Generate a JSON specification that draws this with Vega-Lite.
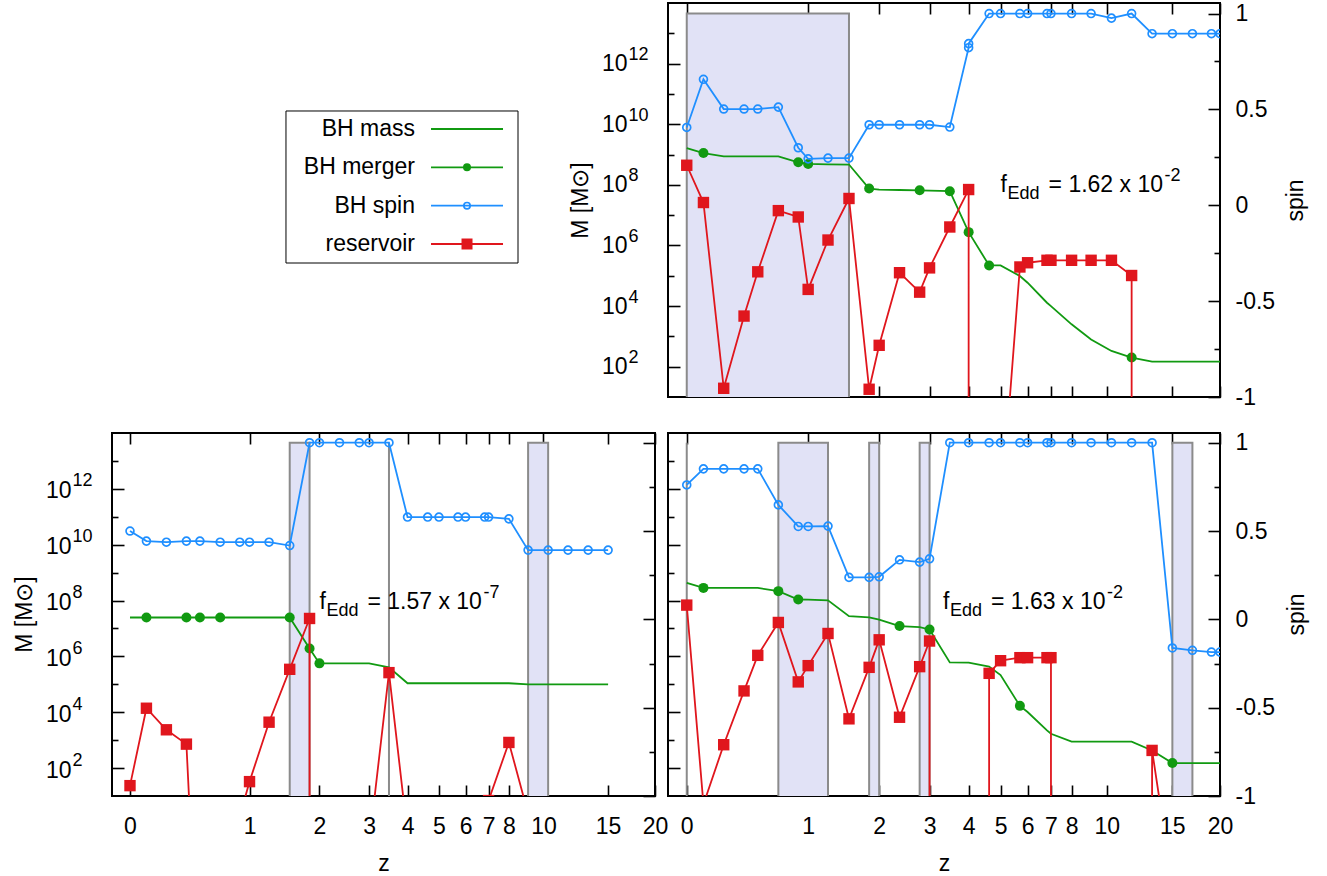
{
"$schema": "https://vega.github.io/schema/vega-lite/v6.json",
"padding": {"left": 12, "top": 1, "right": 5, "bottom": 5},
"config": {
  "font": "Liberation Sans",
  "view": {"stroke": "black", "strokeWidth": 2},
  "axis": {"grid": false, "domain": false, "tickColor": "black", "tickWidth": 1.6, "labelColor": "black", "titleColor": "black", "labelFont": "Liberation Sans", "titleFont": "Liberation Sans", "labelFontSize": 23, "titleFontSize": 23, "titleFontWeight": "normal", "labelFlush": false, "labelOverlap": false, "zindex": 1},
  "text": {"font": "Liberation Sans", "color": "black"}
},
"datasets": {
"legend": [{"k":"mass","label":"BH mass"},{"k":"merger","label":"BH merger"},{"k":"spin","label":"BH spin"},{"k":"res","label":"reservoir"}],
"tr": [
{"k":"band","z":0,"z2":1.525},
{"k":"mass","z":0,"m":1.64e9},{"k":"mass","z":0.1,"m":1.12e9},{"k":"mass","z":0.235,"m":8.7e8},{"k":"mass","z":0.387,"m":8.7e8},{"k":"mass","z":0.5,"m":8.7e8},{"k":"mass","z":0.687,"m":8.7e8},{"k":"mass","z":0.89,"m":5.56e8},{"k":"mass","z":1.0,"m":4.9e8},{"k":"mass","z":1.24,"m":4.73e8},{"k":"mass","z":1.525,"m":4.68e8},{"k":"mass","z":1.833,"m":7.55e7},{"k":"mass","z":2.0,"m":7.0e7},{"k":"mass","z":2.37,"m":6.76e7},{"k":"mass","z":2.78,"m":6.6e7},{"k":"mass","z":3.0,"m":6.46e7},{"k":"mass","z":3.49,"m":6.17e7},{"k":"mass","z":4.0,"m":2.75e6},{"k":"mass","z":4.62,"m":2.19e5},{"k":"mass","z":5.0,"m":2.19e5},{"k":"mass","z":5.7,"m":9.8e4},{"k":"mass","z":6.0,"m":5.9e4},{"k":"mass","z":6.82,"m":1.29e4},{"k":"mass","z":7.0,"m":1.0e4},{"k":"mass","z":8.0,"m":2500},{"k":"mass","z":9.06,"m":794},{"k":"mass","z":10.3,"m":331},{"k":"mass","z":11.68,"m":200},{"k":"mass","z":13.25,"m":146},{"k":"mass","z":15.0,"m":146},{"k":"mass","z":16.94,"m":146},{"k":"mass","z":19.0,"m":146},{"k":"mass","z":20.0,"m":146},
{"k":"merger","z":0.1,"m":1.12e9},{"k":"merger","z":0.89,"m":5.56e8},{"k":"merger","z":1.0,"m":4.9e8},{"k":"merger","z":1.833,"m":7.55e7},{"k":"merger","z":2.78,"m":6.6e7},{"k":"merger","z":3.49,"m":6.17e7},{"k":"merger","z":4.0,"m":2.75e6},{"k":"merger","z":4.62,"m":2.19e5},{"k":"merger","z":11.68,"m":200},
{"k":"res","i":1,"z":0,"m":4.43e8},{"k":"res","i":2,"z":0.1,"m":2.61e7},{"k":"res","i":3,"z":0.235,"m":19.4},{"k":"res","i":4,"z":0.387,"m":4680},{"k":"res","i":5,"z":0.5,"m":1.35e5},{"k":"res","i":6,"z":0.687,"m":1.41e7},{"k":"res","i":7,"z":0.89,"m":8.7e6},{"k":"res","i":8,"z":1.0,"m":3.55e4},{"k":"res","i":9,"z":1.24,"m":1.51e6},{"k":"res","i":10,"z":1.525,"m":3.55e7},{"k":"res","i":11,"z":1.833,"m":18},{"k":"res","i":12,"z":2.0,"m":507},{"k":"res","i":13,"z":2.37,"m":1.26e5},{"k":"res","i":14,"z":2.78,"m":2.88e4},{"k":"res","i":15,"z":3.0,"m":1.82e5},{"k":"res","i":16,"z":3.49,"m":4.07e6},{"k":"res","i":17,"z":4.0,"m":7.0e7},{"k":"res","i":18,"z":4.0,"m":1e-6},{"k":"res","i":19,"z":4.62,"m":1e-6},{"k":"res","i":20,"z":5.0,"m":1e-3},{"k":"res","i":21,"z":5.7,"m":1.95e5},{"k":"res","i":22,"z":6.0,"m":2.69e5},{"k":"res","i":23,"z":6.82,"m":3.24e5},{"k":"res","i":24,"z":7.0,"m":3.24e5},{"k":"res","i":25,"z":8.0,"m":3.24e5},{"k":"res","i":26,"z":9.06,"m":3.24e5},{"k":"res","i":27,"z":10.3,"m":3.24e5},{"k":"res","i":28,"z":11.68,"m":1.02e5},{"k":"res","i":29,"z":11.68,"m":1e-6},
{"k":"spin","i":1,"z":0,"s":0.406},{"k":"spin","i":2,"z":0.1,"s":0.657},{"k":"spin","i":3,"z":0.235,"s":0.502},{"k":"spin","i":4,"z":0.387,"s":0.502},{"k":"spin","i":5,"z":0.5,"s":0.502},{"k":"spin","i":6,"z":0.687,"s":0.512},{"k":"spin","i":7,"z":0.89,"s":0.3},{"k":"spin","i":8,"z":1.0,"s":0.242},{"k":"spin","i":9,"z":1.24,"s":0.246},{"k":"spin","i":10,"z":1.525,"s":0.246},{"k":"spin","i":11,"z":1.833,"s":0.42},{"k":"spin","i":12,"z":2.0,"s":0.42},{"k":"spin","i":13,"z":2.37,"s":0.42},{"k":"spin","i":14,"z":2.78,"s":0.42},{"k":"spin","i":15,"z":3.0,"s":0.42},{"k":"spin","i":16,"z":3.49,"s":0.408},{"k":"spin","i":17,"z":4.0,"s":0.822},{"k":"spin","i":18,"z":4.0,"s":0.843},{"k":"spin","i":19,"z":4.62,"s":1},{"k":"spin","i":20,"z":5.0,"s":1},{"k":"spin","i":21,"z":5.7,"s":1},{"k":"spin","i":22,"z":6.0,"s":1},{"k":"spin","i":23,"z":6.82,"s":1},{"k":"spin","i":24,"z":7.0,"s":1},{"k":"spin","i":25,"z":8.0,"s":1},{"k":"spin","i":26,"z":9.06,"s":1},{"k":"spin","i":27,"z":10.3,"s":0.976},{"k":"spin","i":28,"z":11.68,"s":1},{"k":"spin","i":29,"z":13.25,"s":0.895},{"k":"spin","i":30,"z":15.0,"s":0.895},{"k":"spin","i":31,"z":16.94,"s":0.895},{"k":"spin","i":32,"z":19.0,"s":0.895},{"k":"spin","i":33,"z":20.0,"s":0.895}
],
"bl": [
{"k":"band","z":1.525,"z2":1.833},{"k":"band","z":3.49,"z2":3.49},{"k":"band","z":9.06,"z2":10.3},
{"k":"mass","z":0,"m":2.47e7},{"k":"mass","z":0.1,"m":2.47e7},{"k":"mass","z":0.235,"m":2.47e7},{"k":"mass","z":0.387,"m":2.47e7},{"k":"mass","z":0.5,"m":2.47e7},{"k":"mass","z":0.687,"m":2.47e7},{"k":"mass","z":0.89,"m":2.47e7},{"k":"mass","z":1.0,"m":2.47e7},{"k":"mass","z":1.24,"m":2.47e7},{"k":"mass","z":1.525,"m":2.47e7},{"k":"mass","z":1.833,"m":1.93e6},{"k":"mass","z":2.0,"m":5.62e5},{"k":"mass","z":2.37,"m":5.62e5},{"k":"mass","z":2.78,"m":5.62e5},{"k":"mass","z":3.0,"m":5.62e5},{"k":"mass","z":3.49,"m":4.07e5},{"k":"mass","z":4.0,"m":1.09e5},{"k":"mass","z":4.62,"m":1.09e5},{"k":"mass","z":5.0,"m":1.09e5},{"k":"mass","z":5.7,"m":1.09e5},{"k":"mass","z":6.0,"m":1.09e5},{"k":"mass","z":6.82,"m":1.09e5},{"k":"mass","z":7.0,"m":1.09e5},{"k":"mass","z":8.0,"m":1.09e5},{"k":"mass","z":9.06,"m":1.0e5},{"k":"mass","z":10.3,"m":1.0e5},{"k":"mass","z":11.68,"m":1.0e5},{"k":"mass","z":13.25,"m":1.0e5},{"k":"mass","z":15.0,"m":1.0e5},
{"k":"merger","z":0.1,"m":2.47e7},{"k":"merger","z":0.387,"m":2.47e7},{"k":"merger","z":0.5,"m":2.47e7},{"k":"merger","z":0.687,"m":2.47e7},{"k":"merger","z":1.525,"m":2.47e7},{"k":"merger","z":1.833,"m":1.93e6},{"k":"merger","z":2.0,"m":5.62e5},
{"k":"res","i":1,"z":0,"m":23.5},{"k":"res","i":2,"z":0.1,"m":1.39e4},{"k":"res","i":3,"z":0.235,"m":2350},{"k":"res","i":4,"z":0.387,"m":720},{"k":"res","i":5,"z":0.5,"m":1e-7},{"k":"res","i":6,"z":0.687,"m":1e-7},{"k":"res","i":7,"z":0.89,"m":1.86},{"k":"res","i":8,"z":1.0,"m":32.7},{"k":"res","i":9,"z":1.24,"m":4400},{"k":"res","i":10,"z":1.525,"m":3.44e5},{"k":"res","i":11,"z":1.833,"m":2.28e7},{"k":"res","i":12,"z":1.833,"m":1e-7},{"k":"res","i":13,"z":2.0,"m":1e-7},{"k":"res","i":14,"z":2.37,"m":1e-7},{"k":"res","i":15,"z":2.78,"m":1e-7},{"k":"res","i":16,"z":3.0,"m":0.18},{"k":"res","i":17,"z":3.49,"m":2.62e5},{"k":"res","i":18,"z":4.0,"m":0.42},{"k":"res","i":19,"z":4.62,"m":1e-7},{"k":"res","i":20,"z":5.0,"m":1e-7},{"k":"res","i":21,"z":5.7,"m":1e-7},{"k":"res","i":22,"z":6.0,"m":1e-7},{"k":"res","i":23,"z":6.82,"m":1e-7},{"k":"res","i":24,"z":7.0,"m":6.86},{"k":"res","i":25,"z":8.0,"m":828},{"k":"res","i":26,"z":9.06,"m":2.34},
{"k":"spin","i":1,"z":0,"s":0.5},{"k":"spin","i":2,"z":0.1,"s":0.443},{"k":"spin","i":3,"z":0.235,"s":0.437},{"k":"spin","i":4,"z":0.387,"s":0.443},{"k":"spin","i":5,"z":0.5,"s":0.443},{"k":"spin","i":6,"z":0.687,"s":0.437},{"k":"spin","i":7,"z":0.89,"s":0.437},{"k":"spin","i":8,"z":1.0,"s":0.437},{"k":"spin","i":9,"z":1.24,"s":0.437},{"k":"spin","i":10,"z":1.525,"s":0.418},{"k":"spin","i":11,"z":1.833,"s":1},{"k":"spin","i":12,"z":2.0,"s":1},{"k":"spin","i":13,"z":2.37,"s":1},{"k":"spin","i":14,"z":2.78,"s":1},{"k":"spin","i":15,"z":3.0,"s":1},{"k":"spin","i":16,"z":3.49,"s":1},{"k":"spin","i":17,"z":4.0,"s":0.579},{"k":"spin","i":18,"z":4.62,"s":0.579},{"k":"spin","i":19,"z":5.0,"s":0.579},{"k":"spin","i":20,"z":5.7,"s":0.579},{"k":"spin","i":21,"z":6.0,"s":0.579},{"k":"spin","i":22,"z":6.82,"s":0.579},{"k":"spin","i":23,"z":7.0,"s":0.579},{"k":"spin","i":24,"z":8.0,"s":0.569},{"k":"spin","i":25,"z":9.06,"s":0.392},{"k":"spin","i":26,"z":10.3,"s":0.392},{"k":"spin","i":27,"z":11.68,"s":0.392},{"k":"spin","i":28,"z":13.25,"s":0.392},{"k":"spin","i":29,"z":15.0,"s":0.392}
],
"br": [
{"k":"band","z":0,"z2":0},{"k":"band","z":0.687,"z2":1.24},{"k":"band","z":1.833,"z2":2.0},{"k":"band","z":2.78,"z2":3.0},{"k":"band","z":15.0,"z2":16.94},
{"k":"mass","z":0,"m":4.29e8},{"k":"mass","z":0.1,"m":2.84e8},{"k":"mass","z":0.235,"m":2.84e8},{"k":"mass","z":0.387,"m":2.84e8},{"k":"mass","z":0.5,"m":2.84e8},{"k":"mass","z":0.687,"m":2.17e8},{"k":"mass","z":0.89,"m":1.09e8},{"k":"mass","z":1.0,"m":1.07e8},{"k":"mass","z":1.24,"m":1.02e8},{"k":"mass","z":1.525,"m":2.75e7},{"k":"mass","z":1.833,"m":2.51e7},{"k":"mass","z":2.0,"m":2.09e7},{"k":"mass","z":2.37,"m":1.22e7},{"k":"mass","z":2.78,"m":1.12e7},{"k":"mass","z":3.0,"m":9.2e6},{"k":"mass","z":3.49,"m":6.1e5},{"k":"mass","z":4.0,"m":5.96e5},{"k":"mass","z":4.62,"m":4.29e5},{"k":"mass","z":5.0,"m":2.14e5},{"k":"mass","z":5.7,"m":1.69e4},{"k":"mass","z":6.0,"m":1.02e4},{"k":"mass","z":6.82,"m":2240},{"k":"mass","z":7.0,"m":1690},{"k":"mass","z":8.0,"m":891},{"k":"mass","z":9.06,"m":891},{"k":"mass","z":10.3,"m":891},{"k":"mass","z":11.68,"m":891},{"k":"mass","z":13.25,"m":427},{"k":"mass","z":15.0,"m":151},{"k":"mass","z":16.94,"m":151},{"k":"mass","z":19.0,"m":151},{"k":"mass","z":20.0,"m":151},
{"k":"merger","z":0.1,"m":2.84e8},{"k":"merger","z":0.687,"m":2.17e8},{"k":"merger","z":0.89,"m":1.09e8},{"k":"merger","z":2.37,"m":1.22e7},{"k":"merger","z":3.0,"m":9.2e6},{"k":"merger","z":5.7,"m":1.69e4},{"k":"merger","z":15.0,"m":151},
{"k":"res","i":1,"z":0,"m":6.86e7},{"k":"res","i":2,"z":0.1,"m":5.0},{"k":"res","i":3,"z":0.235,"m":686},{"k":"res","i":4,"z":0.387,"m":5.8e4},{"k":"res","i":5,"z":0.5,"m":1.09e6},{"k":"res","i":6,"z":0.687,"m":1.64e7},{"k":"res","i":7,"z":0.89,"m":1.22e5},{"k":"res","i":8,"z":1.0,"m":4.66e5},{"k":"res","i":9,"z":1.24,"m":6.61e6},{"k":"res","i":10,"z":1.525,"m":5800},{"k":"res","i":11,"z":1.833,"m":4.05e5},{"k":"res","i":12,"z":2.0,"m":3.92e6},{"k":"res","i":13,"z":2.37,"m":6610},{"k":"res","i":14,"z":2.78,"m":4.29e5},{"k":"res","i":15,"z":3.0,"m":3.55e6},{"k":"res","i":16,"z":3.0,"m":1e-7},{"k":"res","i":17,"z":3.49,"m":1e-7},{"k":"res","i":18,"z":4.0,"m":1e-7},{"k":"res","i":19,"z":4.62,"m":1e-7},{"k":"res","i":20,"z":4.62,"m":2.47e5},{"k":"res","i":21,"z":5.0,"m":7.0e5},{"k":"res","i":22,"z":5.7,"m":9.0e5},{"k":"res","i":23,"z":6.0,"m":9.0e5},{"k":"res","i":24,"z":6.82,"m":9.0e5},{"k":"res","i":25,"z":7.0,"m":9.0e5},{"k":"res","i":26,"z":7.0,"m":1e-7},{"k":"res","i":27,"z":8.0,"m":1e-7},{"k":"res","i":28,"z":9.06,"m":1e-7},{"k":"res","i":29,"z":10.3,"m":1e-7},{"k":"res","i":30,"z":11.68,"m":1e-7},{"k":"res","i":31,"z":13.25,"m":1e-7},{"k":"res","i":32,"z":13.25,"m":429},{"k":"res","i":33,"z":15.0,"m":6.5e-3},
{"k":"spin","i":1,"z":0,"s":0.761},{"k":"spin","i":2,"z":0.1,"s":0.852},{"k":"spin","i":3,"z":0.235,"s":0.852},{"k":"spin","i":4,"z":0.387,"s":0.852},{"k":"spin","i":5,"z":0.5,"s":0.852},{"k":"spin","i":6,"z":0.687,"s":0.648},{"k":"spin","i":7,"z":0.89,"s":0.526},{"k":"spin","i":8,"z":1.0,"s":0.526},{"k":"spin","i":9,"z":1.24,"s":0.528},{"k":"spin","i":10,"z":1.525,"s":0.2375},{"k":"spin","i":11,"z":1.833,"s":0.2375},{"k":"spin","i":12,"z":2.0,"s":0.241},{"k":"spin","i":13,"z":2.37,"s":0.337},{"k":"spin","i":14,"z":2.78,"s":0.324},{"k":"spin","i":15,"z":3.0,"s":0.343},{"k":"spin","i":16,"z":3.49,"s":1},{"k":"spin","i":17,"z":4.0,"s":1},{"k":"spin","i":18,"z":4.62,"s":1},{"k":"spin","i":19,"z":5.0,"s":1},{"k":"spin","i":20,"z":5.7,"s":1},{"k":"spin","i":21,"z":6.0,"s":1},{"k":"spin","i":22,"z":6.82,"s":1},{"k":"spin","i":23,"z":7.0,"s":1},{"k":"spin","i":24,"z":8.0,"s":1},{"k":"spin","i":25,"z":9.06,"s":1},{"k":"spin","i":26,"z":10.3,"s":1},{"k":"spin","i":27,"z":11.68,"s":1},{"k":"spin","i":28,"z":13.25,"s":1},{"k":"spin","i":29,"z":15.0,"s":-0.162},{"k":"spin","i":30,"z":16.94,"s":-0.175},{"k":"spin","i":31,"z":19.0,"s":-0.185},{"k":"spin","i":32,"z":20.0,"s":-0.185}
]
},
"columns": 2,
"spacing": {"row": 36, "column": 13},
"bounds": "flush",
"resolve": {"scale": {"color": "independent"}},
"concat": [
{
 "width": 543, "height": 394,
 "view": {"stroke": null},
 "data": {"name": "legend"},
 "resolve": {"scale": {"y": "independent"}},
 "layer": [
  {"data": {"values": [{}]}, "mark": {"type": "rect", "fill": "white", "stroke": "black", "strokeWidth": 1},
   "encoding": {
    "x": {"datum": 0.3204, "type": "quantitative", "scale": {"domain": [0, 1], "nice": false, "zero": false}, "axis": null},
    "x2": {"datum": 0.7477},
    "y": {"datum": 0.2741, "type": "quantitative", "scale": {"domain": [0, 1], "reverse": true, "nice": false, "zero": false}, "axis": null},
    "y2": {"datum": 0.6599}
   }},
  {"mark": {"type": "rule", "strokeWidth": 1.8},
   "encoding": {
    "x": {"datum": 0.5875, "type": "quantitative", "scale": {"domain": [0, 1], "nice": false, "zero": false}, "axis": null},
    "x2": {"datum": 0.7201},
    "y": {"field": "k", "type": "nominal", "scale": {"type": "point", "domain": ["mass", "merger", "spin", "res"], "range": [126, 241], "padding": 0}, "axis": null},
    "color": {"field": "k", "type": "nominal", "scale": {"domain": ["mass", "merger", "spin", "res"], "range": ["#119a11", "#119a11", "#1f8fff", "#e0161d"]}, "legend": null}
   }},
  {"transform": [{"filter": "datum.k === 'merger'"}],
   "mark": {"type": "point", "shape": "circle", "filled": true, "color": "#119a11", "size": 64, "opacity": 1},
   "encoding": {
    "x": {"datum": 0.6538, "type": "quantitative", "scale": {"domain": [0, 1], "nice": false, "zero": false}, "axis": null},
    "y": {"field": "k", "type": "nominal", "scale": {"type": "point", "domain": ["mass", "merger", "spin", "res"], "range": [126, 241], "padding": 0}, "axis": null}
   }},
  {"transform": [{"filter": "datum.k === 'spin'"}],
   "mark": {"type": "point", "shape": "circle", "filled": false, "color": "#1f8fff", "size": 40, "strokeWidth": 1.7, "opacity": 1},
   "encoding": {
    "x": {"datum": 0.6538, "type": "quantitative", "scale": {"domain": [0, 1], "nice": false, "zero": false}, "axis": null},
    "y": {"field": "k", "type": "nominal", "scale": {"type": "point", "domain": ["mass", "merger", "spin", "res"], "range": [126, 241], "padding": 0}, "axis": null}
   }},
  {"transform": [{"filter": "datum.k === 'res'"}],
   "mark": {"type": "point", "shape": "square", "filled": true, "color": "#e0161d", "size": 121, "opacity": 1},
   "encoding": {
    "x": {"datum": 0.6538, "type": "quantitative", "scale": {"domain": [0, 1], "nice": false, "zero": false}, "axis": null},
    "y": {"field": "k", "type": "nominal", "scale": {"type": "point", "domain": ["mass", "merger", "spin", "res"], "range": [126, 241], "padding": 0}, "axis": null}
   }},
  {"mark": {"type": "text", "align": "right", "baseline": "middle", "fontSize": 23},
   "encoding": {
    "x": {"datum": 0.558, "type": "quantitative", "scale": {"domain": [0, 1], "nice": false, "zero": false}, "axis": null},
    "y": {"field": "k", "type": "nominal", "scale": {"type": "point", "domain": ["mass", "merger", "spin", "res"], "range": [126, 241], "padding": 0}, "axis": null},
    "text": {"field": "label"}
   }}
 ]
},
{
 "width": 552, "height": 394,
 "data": {"name": "tr"},
 "resolve": {"scale": {"y": "independent"}, "axis": {"x": "independent", "y": "independent"}},
 "layer": [
  {"transform": [{"filter": "datum.k === 'band'"}],
   "mark": {"type": "rect", "fill": "#e1e2f6", "stroke": "#8b8b8b", "strokeWidth": 2, "clip": true},
   "encoding": {
    "x": {"field": "z", "type": "quantitative", "scale": {"type": "symlog", "constant": 1, "domain": [-0.113, 20], "nice": false, "zero": false}, "axis": {"orient": "bottom", "values": [0,1,2,3,4,5,6,7,8,10,15,20], "tickSize": -11, "labels": false, "title": null}},
    "x2": {"field": "z2"},
    "y": {"datum": -1.02, "type": "quantitative", "scale": {"domain": [-1, 1.055], "nice": false, "zero": false}, "axis": {"orient": "right", "values": [-1,-0.5,0,0.5,1], "tickSize": -12, "labelPadding": 27, "labelAlign": "left", "labelBaseline": "middle", "labelExpr": "datum.value < 0 ? '-' + format(-datum.value, '~g') : format(datum.value, '~g')", "title": "spin", "titleAngle": 270, "titleX": 75, "titleY": 197, "titleAlign": "center", "titleBaseline": "middle"}},
    "y2": {"datum": 1}
   }},
  {"transform": [{"filter": "datum.k === 'mass'"}],
   "mark": {"type": "line", "color": "#119a11", "strokeWidth": 1.8, "clip": true},
   "encoding": {
    "x": {"field": "z", "type": "quantitative", "scale": {"type": "symlog", "constant": 1, "domain": [-0.113, 20], "nice": false, "zero": false}, "axis": {"orient": "top", "values": [0,1,2,3,4,5,6,7,8,10,15,20], "tickSize": -11, "labels": false, "title": null}},
    "y": {"field": "m", "type": "quantitative", "scale": {"type": "log", "domain": [10, 1e14], "nice": false}, "axis": {"orient": "left", "values": [100,1e4,1e6,1e8,1e10,1e12], "tickSize": -12, "labelExpr": "'10'", "labelAlign": "right", "labelBaseline": "middle", "labelPadding": 53, "title": "M [M⊙]", "titleAngle": 270, "titleX": -88, "titleY": 197, "titleAlign": "center", "titleBaseline": "middle"}}
   }},
  {"transform": [{"filter": "datum.k === 'merger'"}],
   "mark": {"type": "point", "shape": "circle", "filled": true, "color": "#119a11", "size": 100, "opacity": 1, "clip": true},
   "encoding": {
    "x": {"field": "z", "type": "quantitative", "scale": {"type": "symlog", "constant": 1, "domain": [-0.113, 20], "nice": false, "zero": false}, "axis": null},
    "y": {"field": "m", "type": "quantitative", "scale": {"type": "log", "domain": [10, 1e14], "nice": false}, "axis": {"orient": "left", "values": [100,1e4,1e6,1e8,1e10,1e12], "ticks": false, "tickSize": 0, "labelExpr": "'' + round(log(datum.value) / LN10)", "labelAlign": "left", "labelBaseline": "middle", "labelPadding": 40, "labelOffset": -9, "labelFontSize": 18, "title": null}}
   }},
  {"transform": [{"filter": "datum.k === 'res'"}],
   "mark": {"type": "line", "color": "#e0161d", "strokeWidth": 1.8, "clip": true},
   "encoding": {
    "x": {"field": "z", "type": "quantitative", "scale": {"type": "symlog", "constant": 1, "domain": [-0.113, 20], "nice": false, "zero": false}, "axis": null},
    "y": {"field": "m", "type": "quantitative", "scale": {"type": "log", "domain": [10, 1e14], "nice": false}, "axis": {"orient": "left", "values": [1e3,1e5,1e7,1e9,1e11,1e13], "tickSize": -6, "labels": false, "title": null}},
    "order": {"field": "i", "type": "quantitative"}
   }},
  {"transform": [{"filter": "datum.k === 'res'"}],
   "mark": {"type": "point", "shape": "square", "filled": true, "color": "#e0161d", "size": 130, "opacity": 1, "clip": true},
   "encoding": {
    "x": {"field": "z", "type": "quantitative", "scale": {"type": "symlog", "constant": 1, "domain": [-0.113, 20], "nice": false, "zero": false}, "axis": null},
    "y": {"field": "m", "type": "quantitative", "scale": {"type": "log", "domain": [10, 1e14], "nice": false}, "axis": null}
   }},
  {"transform": [{"filter": "datum.k === 'spin'"}],
   "mark": {"type": "line", "color": "#1f8fff", "strokeWidth": 1.8, "clip": true},
   "encoding": {
    "x": {"field": "z", "type": "quantitative", "scale": {"type": "symlog", "constant": 1, "domain": [-0.113, 20], "nice": false, "zero": false}, "axis": null},
    "y": {"field": "s", "type": "quantitative", "scale": {"domain": [-1, 1.055], "nice": false, "zero": false}, "axis": {"orient": "right", "values": [-0.75,-0.25,0.25,0.75], "tickSize": -6, "labels": false, "title": null}},
    "order": {"field": "i", "type": "quantitative"}
   }},
  {"transform": [{"filter": "datum.k === 'spin'"}],
   "mark": {"type": "point", "shape": "circle", "filled": false, "color": "#1f8fff", "size": 62, "strokeWidth": 1.7, "opacity": 1, "clip": true},
   "encoding": {
    "x": {"field": "z", "type": "quantitative", "scale": {"type": "symlog", "constant": 1, "domain": [-0.113, 20], "nice": false, "zero": false}, "axis": null},
    "y": {"field": "s", "type": "quantitative", "scale": {"domain": [-1, 1.055], "nice": false, "zero": false}, "axis": null}
   }},
  {"data": {"values": [{}]}, "mark": {"type": "text", "text": "f", "align": "left", "baseline": "alphabetic", "fontSize": 23},
   "encoding": {"x": {"datum": 5.0, "type": "quantitative", "scale": {"type": "symlog", "constant": 1, "domain": [-0.113, 20], "nice": false, "zero": false}, "axis": null}, "y": {"datum": 0.068, "type": "quantitative", "scale": {"domain": [-1, 1.055], "nice": false, "zero": false}, "axis": null}}},
  {"data": {"values": [{}]}, "mark": {"type": "text", "text": "Edd", "align": "left", "baseline": "alphabetic", "fontSize": 18, "dx": 7, "dy": 7},
   "encoding": {"x": {"datum": 5.0, "type": "quantitative", "scale": {"type": "symlog", "constant": 1, "domain": [-0.113, 20], "nice": false, "zero": false}, "axis": null}, "y": {"datum": 0.068, "type": "quantitative", "scale": {"domain": [-1, 1.055], "nice": false, "zero": false}, "axis": null}}},
  {"data": {"values": [{}]}, "mark": {"type": "text", "text": "= 1.62 x 10", "align": "left", "baseline": "alphabetic", "fontSize": 23, "dx": 48},
   "encoding": {"x": {"datum": 5.0, "type": "quantitative", "scale": {"type": "symlog", "constant": 1, "domain": [-0.113, 20], "nice": false, "zero": false}, "axis": null}, "y": {"datum": 0.068, "type": "quantitative", "scale": {"domain": [-1, 1.055], "nice": false, "zero": false}, "axis": null}}},
  {"data": {"values": [{}]}, "mark": {"type": "text", "text": "-2", "align": "left", "baseline": "alphabetic", "fontSize": 18, "dx": 164, "dy": -11},
   "encoding": {"x": {"datum": 5.0, "type": "quantitative", "scale": {"type": "symlog", "constant": 1, "domain": [-0.113, 20], "nice": false, "zero": false}, "axis": null}, "y": {"datum": 0.068, "type": "quantitative", "scale": {"domain": [-1, 1.055], "nice": false, "zero": false}, "axis": null}}}
 ]
},
{
 "width": 543, "height": 363,
 "data": {"name": "bl"},
 "resolve": {"scale": {"y": "independent"}, "axis": {"x": "independent", "y": "independent"}},
 "layer": [
  {"transform": [{"filter": "datum.k === 'band'"}],
   "mark": {"type": "rect", "fill": "#e1e2f6", "stroke": "#8b8b8b", "strokeWidth": 2, "clip": true},
   "encoding": {
    "x": {"field": "z", "type": "quantitative", "scale": {"type": "symlog", "constant": 1, "domain": [-0.11, 20], "nice": false, "zero": false}, "axis": {"orient": "bottom", "values": [0,1,2,3,4,5,6,7,8,10,15,20], "tickSize": -11, "labelPadding": 30, "labelBaseline": "top", "format": "d", "title": "z", "titlePadding": 14}},
    "x2": {"field": "z2"},
    "y": {"datum": -1.02, "type": "quantitative", "scale": {"domain": [-1, 1.055], "nice": false, "zero": false}, "axis": {"orient": "right", "values": [-1,-0.5,0,0.5,1], "tickSize": -12, "labels": false, "title": null}},
    "y2": {"datum": 1}
   }},
  {"transform": [{"filter": "datum.k === 'mass'"}],
   "mark": {"type": "line", "color": "#119a11", "strokeWidth": 1.8, "clip": true},
   "encoding": {
    "x": {"field": "z", "type": "quantitative", "scale": {"type": "symlog", "constant": 1, "domain": [-0.11, 20], "nice": false, "zero": false}, "axis": {"orient": "top", "values": [0,1,2,3,4,5,6,7,8,10,15,20], "tickSize": -11, "labels": false, "title": null}},
    "y": {"field": "m", "type": "quantitative", "scale": {"type": "log", "domain": [10, 1e14], "nice": false}, "axis": {"orient": "left", "values": [100,1e4,1e6,1e8,1e10,1e12], "tickSize": -12, "labelExpr": "'10'", "labelAlign": "right", "labelBaseline": "middle", "labelPadding": 53, "labelOffset": 2, "title": "M [M⊙]", "titleAngle": 270, "titleX": -88, "titleY": 181, "titleAlign": "center", "titleBaseline": "middle"}}
   }},
  {"transform": [{"filter": "datum.k === 'merger'"}],
   "mark": {"type": "point", "shape": "circle", "filled": true, "color": "#119a11", "size": 100, "opacity": 1, "clip": true},
   "encoding": {
    "x": {"field": "z", "type": "quantitative", "scale": {"type": "symlog", "constant": 1, "domain": [-0.11, 20], "nice": false, "zero": false}, "axis": null},
    "y": {"field": "m", "type": "quantitative", "scale": {"type": "log", "domain": [10, 1e14], "nice": false}, "axis": {"orient": "left", "values": [100,1e4,1e6,1e8,1e10,1e12], "ticks": false, "tickSize": 0, "labelExpr": "'' + round(log(datum.value) / LN10)", "labelAlign": "left", "labelBaseline": "middle", "labelPadding": 40, "labelOffset": -8, "labelFontSize": 18, "title": null}}
   }},
  {"transform": [{"filter": "datum.k === 'res'"}],
   "mark": {"type": "line", "color": "#e0161d", "strokeWidth": 1.8, "clip": true},
   "encoding": {
    "x": {"field": "z", "type": "quantitative", "scale": {"type": "symlog", "constant": 1, "domain": [-0.11, 20], "nice": false, "zero": false}, "axis": null},
    "y": {"field": "m", "type": "quantitative", "scale": {"type": "log", "domain": [10, 1e14], "nice": false}, "axis": {"orient": "left", "values": [1e3,1e5,1e7,1e9,1e11,1e13], "tickSize": -6, "labels": false, "title": null}},
    "order": {"field": "i", "type": "quantitative"}
   }},
  {"transform": [{"filter": "datum.k === 'res'"}],
   "mark": {"type": "point", "shape": "square", "filled": true, "color": "#e0161d", "size": 130, "opacity": 1, "clip": true},
   "encoding": {
    "x": {"field": "z", "type": "quantitative", "scale": {"type": "symlog", "constant": 1, "domain": [-0.11, 20], "nice": false, "zero": false}, "axis": null},
    "y": {"field": "m", "type": "quantitative", "scale": {"type": "log", "domain": [10, 1e14], "nice": false}, "axis": null}
   }},
  {"transform": [{"filter": "datum.k === 'spin'"}],
   "mark": {"type": "line", "color": "#1f8fff", "strokeWidth": 1.8, "clip": true},
   "encoding": {
    "x": {"field": "z", "type": "quantitative", "scale": {"type": "symlog", "constant": 1, "domain": [-0.11, 20], "nice": false, "zero": false}, "axis": null},
    "y": {"field": "s", "type": "quantitative", "scale": {"domain": [-1, 1.055], "nice": false, "zero": false}, "axis": {"orient": "right", "values": [-0.75,-0.25,0.25,0.75], "tickSize": -6, "labels": false, "title": null}},
    "order": {"field": "i", "type": "quantitative"}
   }},
  {"transform": [{"filter": "datum.k === 'spin'"}],
   "mark": {"type": "point", "shape": "circle", "filled": false, "color": "#1f8fff", "size": 62, "strokeWidth": 1.7, "opacity": 1, "clip": true},
   "encoding": {
    "x": {"field": "z", "type": "quantitative", "scale": {"type": "symlog", "constant": 1, "domain": [-0.11, 20], "nice": false, "zero": false}, "axis": null},
    "y": {"field": "s", "type": "quantitative", "scale": {"domain": [-1, 1.055], "nice": false, "zero": false}, "axis": null}
   }},
  {"data": {"values": [{}]}, "mark": {"type": "text", "text": "f", "align": "left", "baseline": "alphabetic", "fontSize": 23},
   "encoding": {"x": {"datum": 2.0, "type": "quantitative", "scale": {"type": "symlog", "constant": 1, "domain": [-0.11, 20], "nice": false, "zero": false}, "axis": null}, "y": {"datum": 0.06, "type": "quantitative", "scale": {"domain": [-1, 1.055], "nice": false, "zero": false}, "axis": null}}},
  {"data": {"values": [{}]}, "mark": {"type": "text", "text": "Edd", "align": "left", "baseline": "alphabetic", "fontSize": 18, "dx": 7, "dy": 7},
   "encoding": {"x": {"datum": 2.0, "type": "quantitative", "scale": {"type": "symlog", "constant": 1, "domain": [-0.11, 20], "nice": false, "zero": false}, "axis": null}, "y": {"datum": 0.06, "type": "quantitative", "scale": {"domain": [-1, 1.055], "nice": false, "zero": false}, "axis": null}}},
  {"data": {"values": [{}]}, "mark": {"type": "text", "text": "= 1.57 x 10", "align": "left", "baseline": "alphabetic", "fontSize": 23, "dx": 48},
   "encoding": {"x": {"datum": 2.0, "type": "quantitative", "scale": {"type": "symlog", "constant": 1, "domain": [-0.11, 20], "nice": false, "zero": false}, "axis": null}, "y": {"datum": 0.06, "type": "quantitative", "scale": {"domain": [-1, 1.055], "nice": false, "zero": false}, "axis": null}}},
  {"data": {"values": [{}]}, "mark": {"type": "text", "text": "-7", "align": "left", "baseline": "alphabetic", "fontSize": 18, "dx": 164, "dy": -11},
   "encoding": {"x": {"datum": 2.0, "type": "quantitative", "scale": {"type": "symlog", "constant": 1, "domain": [-0.11, 20], "nice": false, "zero": false}, "axis": null}, "y": {"datum": 0.06, "type": "quantitative", "scale": {"domain": [-1, 1.055], "nice": false, "zero": false}, "axis": null}}}
 ]
},
{
 "width": 552, "height": 363,
 "data": {"name": "br"},
 "resolve": {"scale": {"y": "independent"}, "axis": {"x": "independent", "y": "independent"}},
 "layer": [
  {"transform": [{"filter": "datum.k === 'band'"}],
   "mark": {"type": "rect", "fill": "#e1e2f6", "stroke": "#8b8b8b", "strokeWidth": 2, "clip": true},
   "encoding": {
    "x": {"field": "z", "type": "quantitative", "scale": {"type": "symlog", "constant": 1, "domain": [-0.113, 20], "nice": false, "zero": false}, "axis": {"orient": "bottom", "values": [0,1,2,3,4,5,6,7,8,10,15,20], "tickSize": -11, "labelPadding": 30, "labelBaseline": "top", "format": "d", "title": "z", "titlePadding": 14}},
    "x2": {"field": "z2"},
    "y": {"datum": -1.02, "type": "quantitative", "scale": {"domain": [-1, 1.055], "nice": false, "zero": false}, "axis": {"orient": "right", "values": [-1,-0.5,0,0.5,1], "tickSize": -12, "labelPadding": 27, "labelAlign": "left", "labelBaseline": "middle", "labelExpr": "datum.value < 0 ? '-' + format(-datum.value, '~g') : format(datum.value, '~g')", "title": "spin", "titleAngle": 270, "titleX": 76, "titleY": 181, "titleAlign": "center", "titleBaseline": "middle"}},
    "y2": {"datum": 1}
   }},
  {"transform": [{"filter": "datum.k === 'mass'"}],
   "mark": {"type": "line", "color": "#119a11", "strokeWidth": 1.8, "clip": true},
   "encoding": {
    "x": {"field": "z", "type": "quantitative", "scale": {"type": "symlog", "constant": 1, "domain": [-0.113, 20], "nice": false, "zero": false}, "axis": {"orient": "top", "values": [0,1,2,3,4,5,6,7,8,10,15,20], "tickSize": -11, "labels": false, "title": null}},
    "y": {"field": "m", "type": "quantitative", "scale": {"type": "log", "domain": [10, 1e14], "nice": false}, "axis": {"orient": "left", "values": [100,1e4,1e6,1e8,1e10,1e12], "tickSize": -12, "labels": false, "title": null}}
   }},
  {"transform": [{"filter": "datum.k === 'merger'"}],
   "mark": {"type": "point", "shape": "circle", "filled": true, "color": "#119a11", "size": 100, "opacity": 1, "clip": true},
   "encoding": {
    "x": {"field": "z", "type": "quantitative", "scale": {"type": "symlog", "constant": 1, "domain": [-0.113, 20], "nice": false, "zero": false}, "axis": null},
    "y": {"field": "m", "type": "quantitative", "scale": {"type": "log", "domain": [10, 1e14], "nice": false}, "axis": null}
   }},
  {"transform": [{"filter": "datum.k === 'res'"}],
   "mark": {"type": "line", "color": "#e0161d", "strokeWidth": 1.8, "clip": true},
   "encoding": {
    "x": {"field": "z", "type": "quantitative", "scale": {"type": "symlog", "constant": 1, "domain": [-0.113, 20], "nice": false, "zero": false}, "axis": null},
    "y": {"field": "m", "type": "quantitative", "scale": {"type": "log", "domain": [10, 1e14], "nice": false}, "axis": {"orient": "left", "values": [1e3,1e5,1e7,1e9,1e11,1e13], "tickSize": -6, "labels": false, "title": null}},
    "order": {"field": "i", "type": "quantitative"}
   }},
  {"transform": [{"filter": "datum.k === 'res'"}],
   "mark": {"type": "point", "shape": "square", "filled": true, "color": "#e0161d", "size": 130, "opacity": 1, "clip": true},
   "encoding": {
    "x": {"field": "z", "type": "quantitative", "scale": {"type": "symlog", "constant": 1, "domain": [-0.113, 20], "nice": false, "zero": false}, "axis": null},
    "y": {"field": "m", "type": "quantitative", "scale": {"type": "log", "domain": [10, 1e14], "nice": false}, "axis": null}
   }},
  {"transform": [{"filter": "datum.k === 'spin'"}],
   "mark": {"type": "line", "color": "#1f8fff", "strokeWidth": 1.8, "clip": true},
   "encoding": {
    "x": {"field": "z", "type": "quantitative", "scale": {"type": "symlog", "constant": 1, "domain": [-0.113, 20], "nice": false, "zero": false}, "axis": null},
    "y": {"field": "s", "type": "quantitative", "scale": {"domain": [-1, 1.055], "nice": false, "zero": false}, "axis": {"orient": "right", "values": [-0.75,-0.25,0.25,0.75], "tickSize": -6, "labels": false, "title": null}},
    "order": {"field": "i", "type": "quantitative"}
   }},
  {"transform": [{"filter": "datum.k === 'spin'"}],
   "mark": {"type": "point", "shape": "circle", "filled": false, "color": "#1f8fff", "size": 62, "strokeWidth": 1.7, "opacity": 1, "clip": true},
   "encoding": {
    "x": {"field": "z", "type": "quantitative", "scale": {"type": "symlog", "constant": 1, "domain": [-0.113, 20], "nice": false, "zero": false}, "axis": null},
    "y": {"field": "s", "type": "quantitative", "scale": {"domain": [-1, 1.055], "nice": false, "zero": false}, "axis": null}
   }},
  {"data": {"values": [{}]}, "mark": {"type": "text", "text": "f", "align": "left", "baseline": "alphabetic", "fontSize": 23},
   "encoding": {"x": {"datum": 3.32, "type": "quantitative", "scale": {"type": "symlog", "constant": 1, "domain": [-0.113, 20], "nice": false, "zero": false}, "axis": null}, "y": {"datum": 0.06, "type": "quantitative", "scale": {"domain": [-1, 1.055], "nice": false, "zero": false}, "axis": null}}},
  {"data": {"values": [{}]}, "mark": {"type": "text", "text": "Edd", "align": "left", "baseline": "alphabetic", "fontSize": 18, "dx": 7, "dy": 7},
   "encoding": {"x": {"datum": 3.32, "type": "quantitative", "scale": {"type": "symlog", "constant": 1, "domain": [-0.113, 20], "nice": false, "zero": false}, "axis": null}, "y": {"datum": 0.06, "type": "quantitative", "scale": {"domain": [-1, 1.055], "nice": false, "zero": false}, "axis": null}}},
  {"data": {"values": [{}]}, "mark": {"type": "text", "text": "= 1.63 x 10", "align": "left", "baseline": "alphabetic", "fontSize": 23, "dx": 48},
   "encoding": {"x": {"datum": 3.32, "type": "quantitative", "scale": {"type": "symlog", "constant": 1, "domain": [-0.113, 20], "nice": false, "zero": false}, "axis": null}, "y": {"datum": 0.06, "type": "quantitative", "scale": {"domain": [-1, 1.055], "nice": false, "zero": false}, "axis": null}}},
  {"data": {"values": [{}]}, "mark": {"type": "text", "text": "-2", "align": "left", "baseline": "alphabetic", "fontSize": 18, "dx": 164, "dy": -11},
   "encoding": {"x": {"datum": 3.32, "type": "quantitative", "scale": {"type": "symlog", "constant": 1, "domain": [-0.113, 20], "nice": false, "zero": false}, "axis": null}, "y": {"datum": 0.06, "type": "quantitative", "scale": {"domain": [-1, 1.055], "nice": false, "zero": false}, "axis": null}}}
 ]
}
]
}
